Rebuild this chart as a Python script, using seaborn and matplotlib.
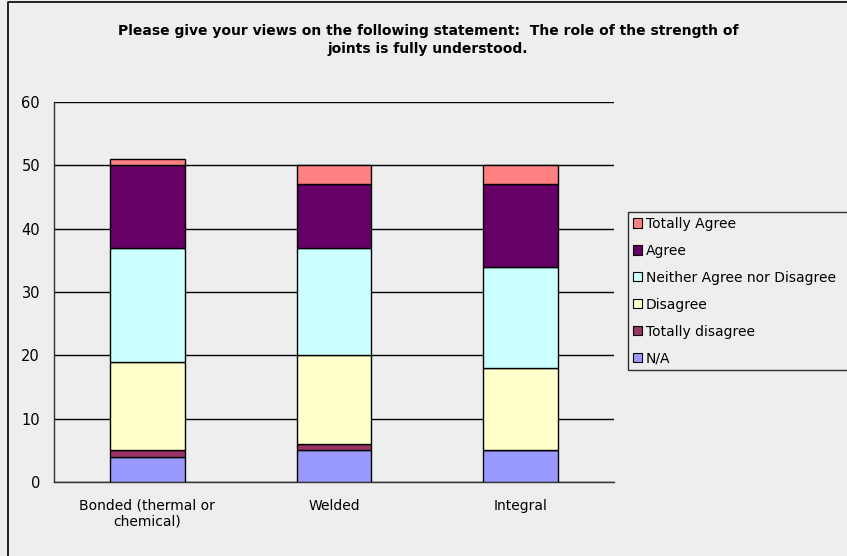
import matplotlib
matplotlib.use("Agg")
import matplotlib.pyplot as plt
import seaborn as sns
import numpy as np
from matplotlib.lines import Line2D
from matplotlib.patches import Patch

categories = ["Bonded (thermal or\nchemical)", "Welded", "Integral"]
series_names = ["N/A", "Totally disagree", "Disagree",
                "Neither Agree nor Disagree", "Agree", "Totally Agree"]
na = [4, 5, 5]
totally_disagree = [1, 1, 0]
disagree = [14, 14, 13]
neither = [18, 17, 16]
agree = [13, 10, 13]
totally_agree = [1, 3, 3]
colors = ["#9999FF", "#993366", "#FFFFCC", "#CCFFFF", "#660066", "#FF8080"]
title = ("Please give your views on the following statement:  The role of the strength of\n"
         "joints is fully understood.")

series = [na, totally_disagree, disagree, neither, agree, totally_agree]

sns.set_style("white")
plt.rcParams['font.family'] = ['DejaVu Sans']
plt.rcParams['text.color'] = 'black'
plt.rcParams['xtick.color'] = 'black'
plt.rcParams['ytick.color'] = 'black'
bg = "#EEEEEE"

fig = plt.figure(figsize=(8.47, 5.56), dpi=100, facecolor=bg)
W, H = 847, 556
ax = fig.add_axes([54 / W, (H - 482) / H, (614 - 54) / W, (482 - 102) / H])
ax.set_facecolor(bg)

bottom = np.zeros(len(categories))
for vals, col in zip(series, colors):
    sns.barplot(x=categories, y=vals, color=col, width=0.4, bottom=bottom,
                edgecolor="black", linewidth=1.0, ax=ax, saturation=1, zorder=3)
    bottom = bottom + np.array(vals)

ax.set_xlim(-0.5, 2.5)
ax.set_ylim(0, 60)
ax.set_yticks(range(0, 61, 10))
ax.yaxis.grid(True, color="black", linewidth=1.0, zorder=0)
ax.set_axisbelow(True)
for s in ["top", "right"]:
    ax.spines[s].set_visible(False)
for s in ["left", "bottom"]:
    ax.spines[s].set_color("#333333")
    ax.spines[s].set_linewidth(1.0)
ax.tick_params(axis="x", which="major", length=0, labelsize=10, pad=12)
ax.set_xticks([-0.5, 0.5, 1.5, 2.5], minor=True)
ax.tick_params(axis="x", which="minor", length=5, color="#333333", direction="out")
ax.tick_params(axis="y", length=5, color="#333333", direction="out", labelsize=10.5, pad=5)
ax.set_xlabel("")
ax.set_ylabel("")

fig.text(428 / W, 1 - 40 / H, title, ha="center", va="center",
         fontsize=10, fontweight="bold", linespacing=1.45)

handles = [Patch(facecolor=c, edgecolor="black", linewidth=0.8)
           for c in colors[::-1]]
leg = fig.legend(handles, series_names[::-1], loc="upper left",
                 bbox_to_anchor=(628 / W, 1 - 372 / H, 240 / W, 160 / H),
                 mode="expand", frameon=True,
                 fancybox=False, edgecolor="black", facecolor=bg,
                 fontsize=10, handlelength=0.65, handleheight=0.65,
                 handletextpad=0.3, labelspacing=0.93, borderpad=0.35,
                 borderaxespad=0)
leg.get_frame().set_linewidth(1.0)

# chart area border: only left and top edges are inside the picture
fig.lines.append(Line2D([8 / W, 8 / W, 1.0], [0, 1 - 1.5 / H, 1 - 1.5 / H],
                        transform=fig.transFigure, color="black", linewidth=1.2))

fig.savefig("out.png", dpi=100, facecolor=bg)
